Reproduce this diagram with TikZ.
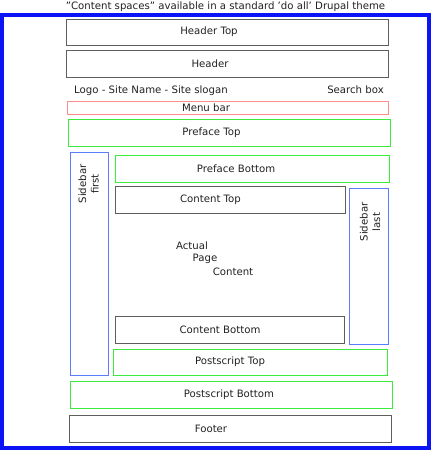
\documentclass[tikz,border=0pt]{standalone}
\usepackage{fontspec}
\setmainfont{DejaVu Sans}
\usetikzlibrary{fit}
\definecolor{frameblue}{HTML}{0A14F5}
\definecolor{boxgray}{HTML}{5E5E5E}
\definecolor{boxgreen}{HTML}{3CEC3C}
\definecolor{boxblue}{HTML}{5A7CFF}
\definecolor{boxred}{HTML}{FF8C8C}
\definecolor{txt}{HTML}{222222}
\begin{document}
\begin{tikzpicture}[x=1bp,y=-1bp,
  every node/.style={font=\fontsize{10.2}{12}\selectfont, text=txt},
  area/.style={inner sep=0pt, outer sep=0pt, line width=1.25bp},
  graybox/.style={area, draw=boxgray, line width=1.2bp},
  greenbox/.style={area, draw=boxgreen},
  bluebox/.style={area, draw=boxblue},
  redbox/.style={area, draw=boxred},
  lbl/.style={inner sep=0pt, anchor=center},
  rot/.style={lbl, rotate=90, align=center, font=\fontsize{10.2}{12.5}\selectfont}]
\useasboundingbox (0,0) rectangle (431,450);
\fill[white] (0,0) rectangle (431,450);
\node[inner sep=0pt, outer sep=0pt, draw=frameblue, line width=4bp, fit={(2,15)(429,448)}] (frame) {};
\node[lbl] (title) at (225.5,6.5) {\symbol{34}Content spaces\symbol{34} available in a standard \symbol{39}do all\symbol{39} Drupal theme};
% header
\node[graybox, fit={(66.5,19.5)(388.5,45.5)}] (ht) {};
\node[lbl] (htl) at (209,32) {Header Top};
\node[graybox, fit={(66.5,50.5)(388.5,77.5)}] (hd) {};
\node[lbl] (hdl) at (210,63.5) {Header};
\node[lbl] (logo) at (151,91) {Logo - Site Name - Site slogan};
\node[lbl] (search) at (355.5,90) {Search box};
\node[redbox, fit={(67.5,101.5)(388.5,114.5)}] (menu) {};
\node[lbl] (menul) at (206,107.5) {Menu bar};
\node[greenbox, fit={(68.5,119.5)(390.5,146.5)}] (pt) {};
\node[lbl] (ptl) at (211.5,132.5) {Preface Top};
% sidebars
\node[bluebox, fit={(70.5,152.5)(108.5,375.5)}] (sf) {};
\node[rot] (sfl) at (88.5,184) {Sidebar\\first};
\node[bluebox, fit={(349.5,188.5)(388.5,344.5)}] (sl) {};
\node[rot] (sll) at (370,222) {Sidebar\\last};
% middle
\node[greenbox, fit={(115.5,155.5)(389.5,182.5)}] (pb) {};
\node[lbl] (pbl) at (236,168.5) {Preface Bottom};
\node[graybox, fit={(115.5,186.5)(345.5,213.5)}] (ct) {};
\node[lbl] (ctl) at (210.5,200) {Content Top};
\node[lbl] (ac1) at (192,246) {Actual};
\node[lbl] (ac2) at (205,259) {Page};
\node[lbl] (ac3) at (233,271.5) {Content};
\node[graybox, fit={(115.5,316.5)(344.5,343.5)}] (cb) {};
\node[lbl] (cbl) at (220,330) {Content Bottom};
\node[greenbox, fit={(113.5,349.5)(387.5,375.5)}] (pst) {};
\node[lbl] (pstl) at (230,362) {Postscript Top};
\node[greenbox, fit={(70.5,381.5)(392.5,408.5)}] (psb) {};
\node[lbl] (psbl) at (229,394.5) {Postscript Bottom};
\node[graybox, fit={(69.5,415.5)(391.5,442.5)}] (ft) {};
\node[lbl] (ftl) at (211,428.5) {Footer};
\end{tikzpicture}
\end{document}
